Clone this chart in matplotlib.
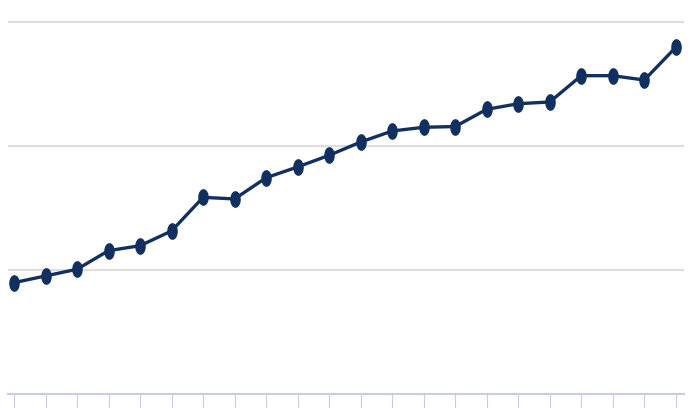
import numpy as np
import matplotlib
matplotlib.use("Agg")
import matplotlib.pyplot as plt
from matplotlib.path import Path

# Values (one per category)
categories = list(range(22))
values = [8.98, 9.52, 10.06, 11.56, 11.96, 13.15, 15.86, 15.73, 17.44, 18.31, 19.25,
          20.32, 21.21, 21.51, 21.57, 22.96, 23.41, 23.55, 25.67, 25.67, 25.32, 27.96]
grid_values = [10, 20, 30]

line_color = "#12305f"

# tall ellipse marker
t = np.linspace(0, 2 * np.pi, 40)
ellipse = Path(np.column_stack([0.6 * np.cos(t), np.sin(t)]))

fig = plt.figure(figsize=(6.99, 4.08), dpi=100)
ax = fig.add_axes([8 / 699, 14 / 408, 676 / 699, 384 / 408])

for g in grid_values:
    ax.axhline(g, color="#dedede", lw=1.5, zorder=0)

ax.plot(categories, values, color=line_color, lw=2.4, marker=ellipse,
        markersize=11, markerfacecolor=line_color, markeredgecolor=line_color, zorder=3)

ax.set_xlim(-0.19, 21.26)
ax.set_ylim(0, 384 / 12.4)
ax.set_xticks(categories)
ax.set_xticklabels([])
ax.set_yticks([])

for s in ["top", "right", "left"]:
    ax.spines[s].set_visible(False)
ax.spines["bottom"].set_color("#c8cde2")
ax.spines["bottom"].set_linewidth(1.5)
ax.tick_params(axis="x", direction="out", length=11, width=0.8, color="#c8cde2")

fig.savefig("out.png", dpi=100)
